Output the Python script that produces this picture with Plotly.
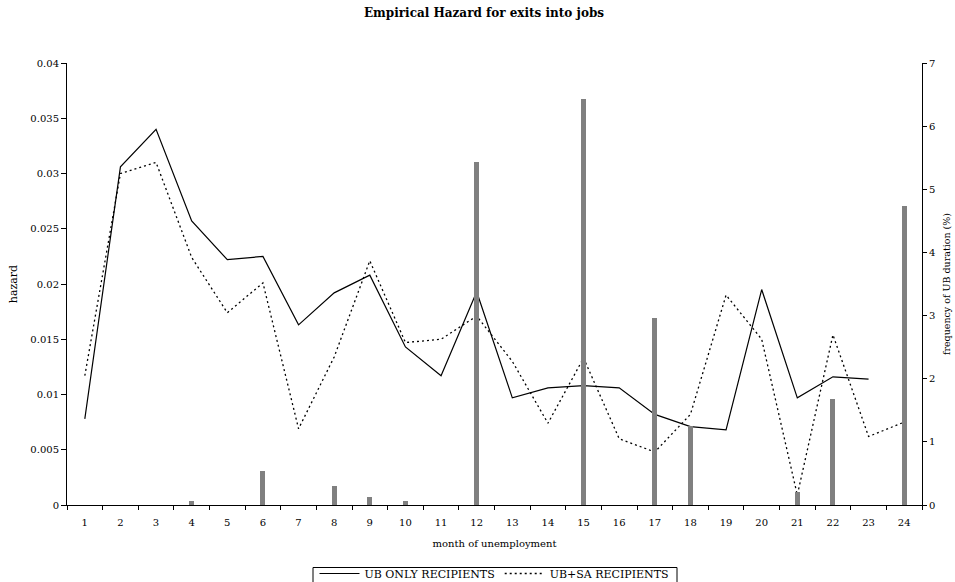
import plotly.graph_objects as go

# Months of unemployment (category axis)
months = [str(m) for m in range(1, 25)]

# Empirical hazard for exits into jobs
ub_only = [0.0078, 0.0306, 0.0340, 0.0257, 0.0222, 0.0225, 0.0163, 0.0192, 0.0208,
           0.0143, 0.0117, 0.0193, 0.0097, 0.0106, 0.0108, 0.0106, 0.0082, 0.0071,
           0.0068, 0.0195, 0.0097, 0.0116, 0.0114, None]
ub_sa = [0.0117, 0.0300, 0.0310, 0.0224, 0.0174, 0.0201, 0.0069, 0.0134, 0.0221,
         0.0147, 0.0150, 0.0171, 0.0130, 0.0074, 0.0133, 0.0060, 0.0048, 0.0082,
         0.0190, 0.0150, 0.0009, 0.0154, 0.0062, 0.0075]

# Frequency of UB duration (%)
freq = [0, 0, 0, 0.06, 0, 0.54, 0, 0.30, 0.12, 0.07, 0, 5.43, 0, 0, 6.43, 0,
        2.96, 1.25, 0, 0, 0.20, 1.68, 0, 4.74]

# Axis ticks
hazard_ticks = [0, 0.005, 0.01, 0.015, 0.02, 0.025, 0.03, 0.035, 0.04]
hazard_labels = ["0", "0.005", "0.01", "0.015", "0.02", "0.025", "0.03", "0.035", "0.04"]
freq_ticks = [0, 1, 2, 3, 4, 5, 6, 7]

FONT = "DejaVu Serif"

fig = go.Figure()

fig.add_trace(go.Scatter(
    x=months, y=ub_only, mode="lines", name="UB ONLY RECIPIENTS",
    line=dict(color="black", width=1.2), yaxis="y",
))
fig.add_trace(go.Scatter(
    x=months, y=ub_sa, mode="lines", name="UB+SA RECIPIENTS",
    line=dict(color="black", width=1.3, dash="2px,3px"), yaxis="y",
))
fig.add_trace(go.Bar(
    x=months, y=freq, yaxis="y2", width=0.14, showlegend=False,
    marker=dict(color="#808080", line=dict(width=0)),
))

fig.update_layout(
    width=955, height=582,
    margin=dict(l=67, r=33, t=63, b=77),
    paper_bgcolor="white", plot_bgcolor="white",
    font=dict(family=FONT, color="black", size=10),
    title=dict(
        text="<b>Empirical Hazard for exits into jobs</b>",
        x=484 / 955, xanchor="center", y=1 - 13 / 582, yanchor="middle",
        font=dict(family=FONT, size=12, color="black"),
    ),
    xaxis=dict(
        type="category", categoryorder="array", categoryarray=months,
        range=[-0.5, 23.5], automargin=False,
        showline=True, linecolor="black", linewidth=1,
        ticks="outside", ticklen=4, tickcolor="black", tickson="boundaries",
        ticklabelstandoff=8,
        showgrid=False, zeroline=False,
        tickfont=dict(size=10),
        title=dict(text="month of unemployment", font=dict(size=10), standoff=12),
    ),
    yaxis=dict(
        range=[0, 0.04], tickvals=hazard_ticks, ticktext=hazard_labels,
        automargin=False,
        showline=True, linecolor="black", linewidth=1,
        ticks="outside", ticklen=5, tickcolor="black",
        showgrid=False, zeroline=False,
        tickfont=dict(size=10),
        title=dict(text="hazard", font=dict(size=11), standoff=10),
    ),
    yaxis2=dict(
        range=[0, 7], tickvals=freq_ticks, overlaying="y", side="right",
        automargin=False,
        showline=True, linecolor="black", linewidth=1,
        ticks="outside", ticklen=4, tickcolor="black",
        showgrid=False, zeroline=False,
        tickfont=dict(size=10),
        title=dict(text="frequency of UB duration (%)", font=dict(size=9.5), standoff=8),
    ),
    legend=dict(
        orientation="h", x=0.5, xanchor="center",
        yref="container", y=1 - 573.5 / 582, yanchor="middle",
        borderwidth=0, bgcolor="rgba(0,0,0,0)",
        font=dict(size=11), itemwidth=40, tracegroupgap=0,
    ),
    bargap=0,
)

# Frame around the legend, open at the bottom edge of the page
fig.add_shape(
    type="rect", xref="paper", yref="paper",
    x0=(313 - 67) / 855, x1=(677 - 67) / 855,
    y0=(505 - 567.5) / 442, y1=(505 - 600) / 442,
    line=dict(color="black", width=1), fillcolor="rgba(0,0,0,0)", layer="above",
)

fig.write_html("out.html")
